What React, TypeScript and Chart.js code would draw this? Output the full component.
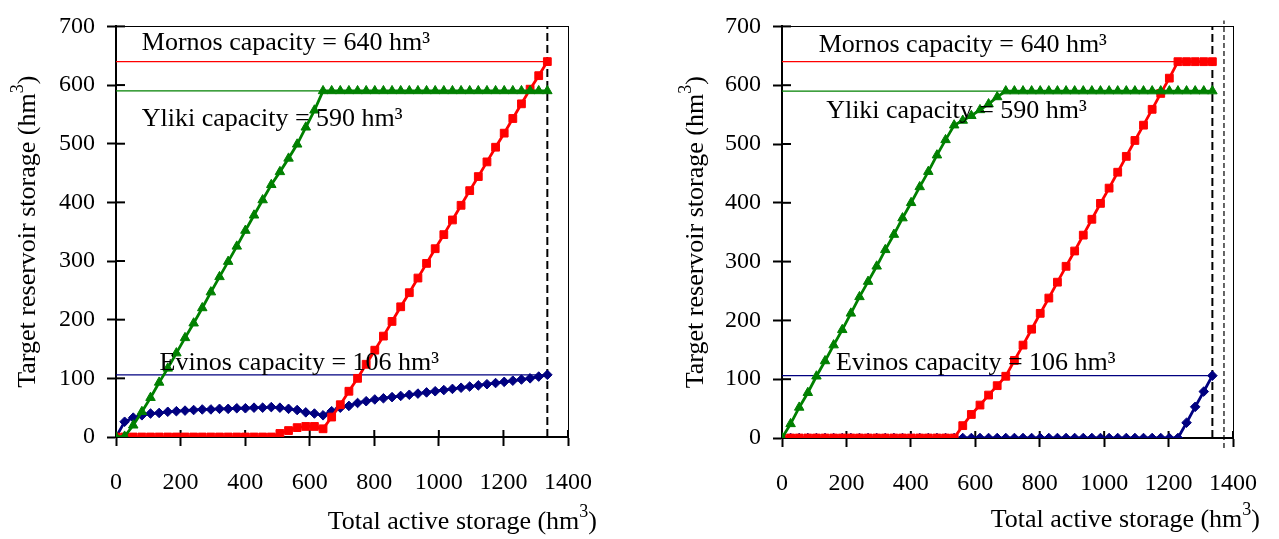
import React, { useEffect, useRef } from 'react';
import { Chart, registerables } from 'chart.js';

Chart.register(...registerables);

// ---------- data ----------
const totalStorage = [
  0, 26.7, 53.4, 80.2, 106.9, 133.6, 160.3, 187.0, 213.8, 240.5, 267.2, 293.9, 320.6, 347.4, 374.1, 400.8, 427.5,
  454.2, 481.0, 507.7, 534.4, 561.1, 587.8, 614.6, 641.3, 668.0, 694.7, 721.4, 748.2, 774.9, 801.6, 828.3, 855.0,
  881.8, 908.5, 935.2, 961.9, 988.6, 1015.4, 1042.1, 1068.8, 1095.5, 1122.2, 1149.0, 1175.7, 1202.4, 1229.1,
  1255.8, 1282.6, 1309.3, 1336.0,
];

// left panel
const ylikiLeft = [
  0, 1, 20, 43, 67, 93, 117, 143, 169, 194, 220, 247, 273, 299, 325, 352, 378, 404, 430, 452, 475, 499, 528, 557,
  590, 590, 590, 590, 590, 590, 590, 590, 590, 590, 590, 590, 590, 590, 590, 590, 590, 590, 590, 590, 590, 590,
  590, 590, 590, 590, 590,
];
const mornosLeft = [
  0, 0, 0, 0, 0, 0, 0, 0, 0, 0, 0, 0, 0, 0, 0, 0, 0, 0, 0, 6, 11, 16, 18, 18, 14, 34, 55, 78, 100, 124, 148, 172,
  197, 222, 246, 271, 296, 321, 345, 370, 395, 420, 444, 469, 494, 518, 543, 568, 593, 616, 640,
];
const evinosLeft = [
  0, 26, 33, 37, 40, 41, 43, 44, 45, 46, 47, 47, 48, 48, 49, 49, 50, 50, 51, 50, 48, 46, 42, 40, 37, 44, 50, 53,
  58, 61, 64, 66, 68, 70, 72, 74, 76, 78, 80, 82, 84, 86, 88, 90, 92, 94, 96, 98, 100, 103, 106,
];

// right panel
const ylikiRight = [
  0, 24, 52, 77, 105, 131, 158, 184, 212, 240, 266, 292, 320, 346, 374, 400, 427, 453, 481, 507, 532, 540, 548,
  558, 568, 580, 590, 590, 590, 590, 590, 590, 590, 590, 590, 590, 590, 590, 590, 590, 590, 590, 590, 590, 590,
  590, 590, 590, 590, 590, 590,
];
const mornosRight = [
  0, 0, 0, 0, 0, 0, 0, 0, 0, 0, 0, 0, 0, 0, 0, 0, 0, 0, 0, 0, 0, 21, 40, 56, 73, 89, 105, 132, 158, 185, 212, 238,
  265, 292, 318, 345, 372, 399, 425, 452, 479, 506, 532, 559, 586, 612, 640, 640, 640, 640, 640,
];
const evinosRight = [
  0, 0, 0, 0, 0, 0, 0, 0, 0, 0, 0, 0, 0, 0, 0, 0, 0, 0, 0, 0, 0, 0, 0, 0, 0, 0, 0, 0, 0, 0, 0, 0, 0, 0, 0, 0, 0,
  0, 0, 0, 0, 0, 0, 0, 0, 0, 0, 26, 53, 79, 106,
];

const capacityRange = [0, 1336];
const mornosCapacity = 640;
const ylikiCapacity = 590;
const evinosCapacity = 106;
const totalCapacity = 1336;
const extraLineRight = 1372;

const xTickValues = [0, 200, 400, 600, 800, 1000, 1200, 1400];
const yTickValues = [0, 100, 200, 300, 400, 500, 600, 700];

const capacityLabels = ['Mornos capacity = 640 hm³', 'Yliki capacity = 590 hm³', 'Evinos capacity = 106 hm³'];
const xTitleParts = [{ text: 'Total active storage (hm' }, { text: '3', sup: true }, { text: ')' }];
const yTitleParts = [{ text: 'Target reservoir storage (hm' }, { text: '3', sup: true }, { text: ')' }];

// ---------- styling / layout ----------
const FONT = '"Liberation Serif", "Times New Roman", serif';
const RED = '#ff0000';
const GREEN = '#008000';
const NAVY = '#000080';

const LEFT = {
  yliki: ylikiLeft,
  mornos: mornosLeft,
  evinos: evinosLeft,
  extra: null as number | null,
  padding: { left: 0, top: 20, right: 72, bottom: 0 },
  yAxisWidth: 116,
  xAxisHeight: 102,
  xTitleRight: 597,
  xTitleBaseline: 529,
  yTitleBaselineX: 35,
  labelPos: [
    [80, 660],
    [80, 530],
    [135, 114],
  ],
};

const RIGHT = {
  yliki: ylikiRight,
  mornos: mornosRight,
  evinos: evinosRight,
  extra: extraLineRight as number | null,
  padding: { left: 0, top: 17, right: 44, bottom: 0 },
  yAxisWidth: 142,
  xAxisHeight: 101,
  xTitleRight: 620,
  xTitleBaseline: 527,
  yTitleBaselineX: 63,
  labelPos: [
    [114, 657],
    [137, 545],
    [168, 116],
  ],
};

type Part = { text: string; sup?: boolean };

function drawRich(ctx: CanvasRenderingContext2D, parts: Part[], x: number, y: number, align: string) {
  const size = 26;
  const supSize = 18;
  const raise = 12;
  const widths = parts.map((pt) => {
    ctx.font = `${pt.sup ? supSize : size}px ${FONT}`;
    return ctx.measureText(pt.text).width;
  });
  const total = widths.reduce((a, b) => a + b, 0);
  let cx = align === 'right' ? x - total : align === 'center' ? x - total / 2 : x;
  ctx.textAlign = 'left';
  ctx.textBaseline = 'alphabetic';
  parts.forEach((pt, i) => {
    ctx.font = `${pt.sup ? supSize : size}px ${FONT}`;
    ctx.fillText(pt.text, cx, pt.sup ? y - raise : y);
    cx += widths[i];
  });
}

function decorPlugin(p: typeof LEFT) {
  return {
    id: 'decor',
    beforeDatasetsDraw(chart: any) {
      const { ctx, scales } = chart;
      const x = scales.x;
      const y = scales.y;
      ctx.save();
      ctx.strokeStyle = '#000';
      ctx.lineWidth = 2;
      xTickValues.forEach((v) => {
        const px = x.getPixelForValue(v);
        ctx.beginPath();
        ctx.moveTo(px, y.bottom);
        ctx.lineTo(px, y.bottom - 7);
        ctx.stroke();
      });
      yTickValues.forEach((v) => {
        const py = y.getPixelForValue(v);
        ctx.beginPath();
        ctx.moveTo(x.left, py);
        ctx.lineTo(x.left + 9, py);
        ctx.stroke();
      });
      ctx.restore();
    },
    afterDraw(chart: any) {
      const { ctx, scales, chartArea } = chart;
      const x = scales.x;
      const y = scales.y;
      ctx.save();
      ctx.fillStyle = '#000';
      ctx.font = `26px ${FONT}`;
      ctx.textAlign = 'left';
      ctx.textBaseline = 'alphabetic';
      capacityLabels.forEach((label, i) => {
        const [vx, vy] = p.labelPos[i];
        ctx.fillText(label, x.getPixelForValue(vx), y.getPixelForValue(vy));
      });
      drawRich(ctx, xTitleParts, p.xTitleRight, p.xTitleBaseline, 'right');
      ctx.translate(p.yTitleBaselineX, (chartArea.top + chartArea.bottom) / 2);
      ctx.rotate(-Math.PI / 2);
      drawRich(ctx, yTitleParts, 0, 0, 'center');
      ctx.restore();
    },
  };
}

function series(values: number[], color: string, style: string, radius: number) {
  return {
    data: totalStorage.map((x, i) => ({ x, y: values[i] })),
    borderColor: color,
    backgroundColor: color,
    borderWidth: 2.8,
    pointStyle: style,
    pointRadius: radius,
    pointBorderWidth: 1,
    pointBorderColor: color,
    pointBackgroundColor: color,
    showLine: true,
  };
}

function hLine(value: number, color: string) {
  return {
    data: capacityRange.map((x) => ({ x, y: value })),
    borderColor: color,
    borderWidth: 1.3,
    pointRadius: 0,
    showLine: true,
  };
}

function buildChart(canvas: HTMLCanvasElement, p: typeof LEFT) {
  const datasets: any[] = [
    series(p.yliki, GREEN, 'triangle', 5.5),
    series(p.mornos, RED, 'rect', 5.5),
    series(p.evinos, NAVY, 'rectRot', 4.8),
    hLine(mornosCapacity, RED),
    hLine(ylikiCapacity, GREEN),
    hLine(evinosCapacity, NAVY),
    {
      data: [
        { x: totalCapacity, y: 0 },
        { x: totalCapacity, y: 700 },
      ],
      borderColor: '#000',
      borderWidth: 2,
      borderDash: [8, 4],
      pointRadius: 0,
      showLine: true,
    },
  ];
  if (p.extra !== null) {
    datasets.push({
      data: [
        { x: p.extra, y: -17 },
        { x: p.extra, y: 710 },
      ],
      borderColor: '#000',
      borderWidth: 1.2,
      borderDash: [5, 3],
      pointRadius: 0,
      showLine: true,
      clip: false,
    });
  }
  const tickFont = { family: FONT, size: 24 };
  const plain = (v: any) => String(v);
  return new Chart(canvas, {
    type: 'scatter',
    data: { datasets },
    plugins: [decorPlugin(p)],
    options: {
      responsive: false,
      animation: false,
      layout: { padding: p.padding },
      plugins: { legend: { display: false }, tooltip: { enabled: false } },
      scales: {
        x: {
          type: 'linear',
          position: 'bottom',
          min: 0,
          max: 1400,
          afterFit: (s: any) => {
            s.height = p.xAxisHeight;
          },
          ticks: { stepSize: 200, font: tickFont, color: '#000', padding: 22, maxRotation: 0, autoSkip: false, callback: plain },
          grid: { display: true, drawOnChartArea: false, drawTicks: true, tickLength: 9, tickWidth: 2, tickColor: '#000' },
          border: { display: true, color: '#000', width: 2 },
        },
        y: {
          type: 'linear',
          position: 'left',
          min: 0,
          max: 700,
          afterFit: (s: any) => {
            s.width = p.yAxisWidth;
          },
          ticks: { stepSize: 100, font: tickFont, color: '#000', padding: 12, callback: plain },
          grid: { display: true, drawOnChartArea: false, drawTicks: true, tickLength: 9, tickWidth: 2, tickColor: '#000' },
          border: { display: true, color: '#000', width: 2 },
        },
        x2: {
          type: 'linear',
          position: 'top',
          min: 0,
          max: 1400,
          afterFit: (s: any) => {
            s.height = 0;
          },
          ticks: { display: false },
          grid: { display: false },
          border: { display: true, color: '#000', width: 1 },
        },
        y2: {
          type: 'linear',
          position: 'right',
          min: 0,
          max: 700,
          afterFit: (s: any) => {
            s.width = 0;
          },
          ticks: { display: false },
          grid: { display: false },
          border: { display: true, color: '#000', width: 1 },
        },
      },
    } as any,
  });
}

export default function App() {
  const leftRef = useRef<HTMLCanvasElement>(null);
  const rightRef = useRef<HTMLCanvasElement>(null);
  useEffect(() => {
    const c1 = buildChart(leftRef.current!, LEFT);
    const c2 = buildChart(rightRef.current!, RIGHT);
    return () => {
      c1.destroy();
      c2.destroy();
    };
  }, []);
  return (
    <div style={{ position: 'fixed', left: 0, top: 0, width: 1279, height: 539, background: '#fff' }}>
      <canvas ref={leftRef} width={640} height={539} style={{ position: 'absolute', left: 0, top: 0 }} />
      <canvas ref={rightRef} width={639} height={539} style={{ position: 'absolute', left: 640, top: 0 }} />
    </div>
  );
}
